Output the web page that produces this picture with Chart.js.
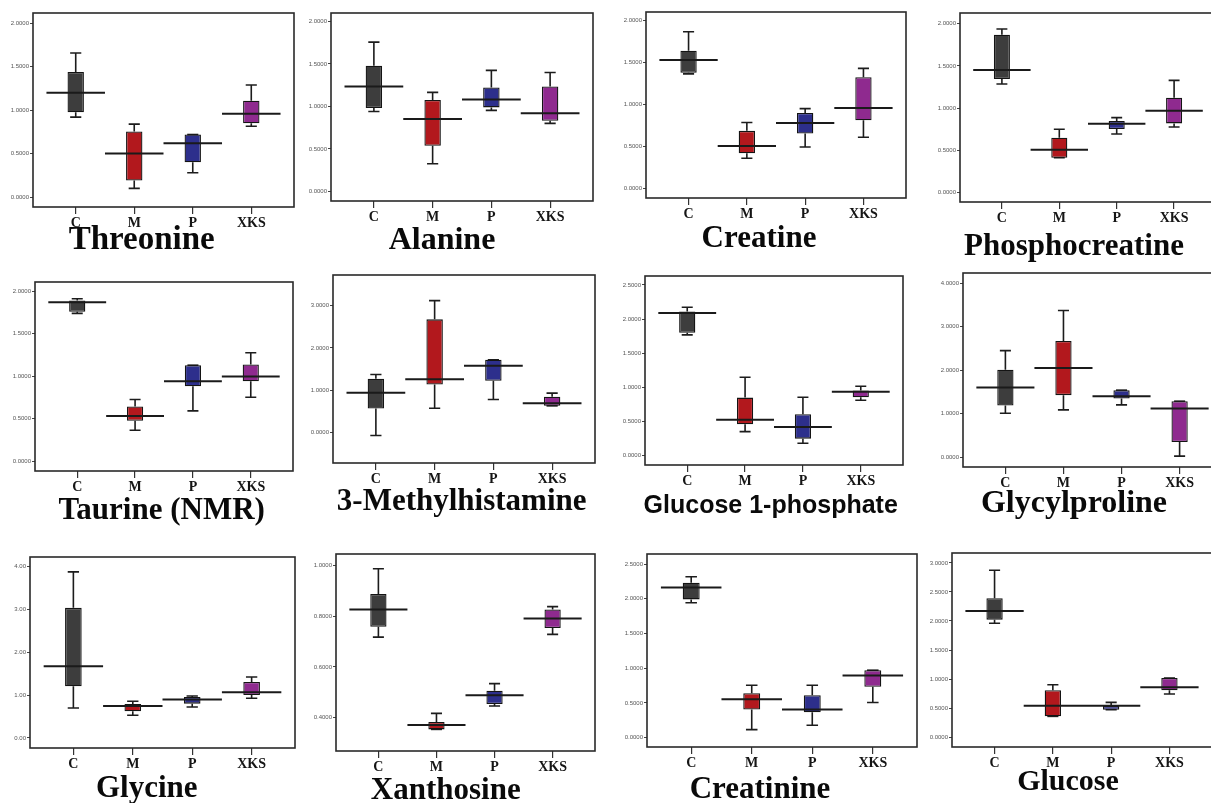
<!DOCTYPE html>
<html>
<head>
<meta charset="utf-8">
<script src="https://cdn.jsdelivr.net/npm/chart.js@4.4.0/dist/chart.umd.min.js"></script>
<style>
html, body { margin: 0; padding: 0; background: #fff; width: 1211px; height: 803px; overflow: hidden; position: relative; }
canvas { position: absolute; }
</style>
</head>
<body>
<script>
// groups on the x axis of every panel
const groups = ['C', 'M', 'P', 'XKS'];

const metabolites = [
    'Threonine', 'Alanine', 'Creatine', 'Phosphocreatine',
    'Taurine (NMR)', '3-Methylhistamine', 'Glucose 1-phosphate', 'Glycylproline',
    'Glycine', 'Xanthosine', 'Creatinine', 'Glucose'
];

// box plot values, one row per metabolite (C, M, P, XKS)
const mins = [
    [0.92, 0.10, 0.28, 0.815],
    [0.94, 0.325, 0.953, 0.80],
    [1.365, 0.361, 0.496, 0.611],
    [1.286, 0.414, 0.694, 0.777],
    [1.737, 0.365, 0.592, 0.753],
    [-0.07, 0.576, 0.781, 0.631],
    [1.768, 0.352, 0.181, 0.81],
    [1.013, 1.09, 1.205, 0.03],
    [0.702, 0.53, 0.725, 0.928],
    [0.717, 0.354, 0.446, 0.728],
    [1.942, 0.115, 0.178, 0.505],
    [1.96, 0.356, 0.471, 0.741]
];
const q1s = [
    [0.977, 0.19, 0.40, 0.85],
    [0.98, 0.537, 0.988, 0.831],
    [1.377, 0.421, 0.655, 0.813],
    [1.345, 0.414, 0.753, 0.82],
    [1.757, 0.475, 0.882, 0.941],
    [0.568, 1.137, 1.223, 0.631],
    [1.80, 0.459, 0.249, 0.854],
    [1.19, 1.428, 1.351, 0.353],
    [1.209, 0.624, 0.803, 1.006],
    [0.758, 0.354, 0.454, 0.753],
    [1.99, 0.404, 0.365, 0.731],
    [2.023, 0.356, 0.471, 0.805]
];
const q3s = [
    [1.44, 0.754, 0.72, 1.11],
    [1.478, 1.075, 1.224, 1.235],
    [1.639, 0.687, 0.90, 1.325],
    [1.87, 0.651, 0.848, 1.124],
    [1.89, 0.643, 1.129, 1.137],
    [1.271, 2.676, 1.72, 0.845],
    [2.109, 0.85, 0.605, 0.952],
    [2.01, 2.672, 1.543, 1.29],
    [3.041, 0.795, 0.959, 1.31],
    [0.887, 0.383, 0.506, 0.826],
    [2.23, 0.639, 0.611, 0.971],
    [2.391, 0.805, 0.534, 1.017]
];
const maxs = [
    [1.66, 0.84, 0.72, 1.29],
    [1.757, 1.165, 1.424, 1.40],
    [1.865, 0.786, 0.952, 1.43],
    [1.937, 0.75, 0.888, 1.329],
    [1.91, 0.725, 1.129, 1.275],
    [1.373, 3.118, 1.72, 0.931],
    [2.173, 1.147, 0.854, 1.016],
    [2.449, 3.37, 1.543, 1.29],
    [3.883, 0.858, 0.98, 1.427],
    [0.986, 0.417, 0.534, 0.837],
    [2.317, 0.755, 0.755, 0.971],
    [2.874, 0.902, 0.598, 1.017]
];
const means = [
    [1.20, 0.50, 0.62, 0.96],
    [1.235, 0.851, 1.082, 0.92],
    [1.528, 0.508, 0.782, 0.96],
    [1.452, 0.509, 0.817, 0.97],
    [1.867, 0.533, 0.941, 0.996],
    [0.939, 1.263, 1.579, 0.695],
    [2.09, 0.527, 0.42, 0.937],
    [1.605, 2.05, 1.405, 1.12],
    [1.676, 0.749, 0.897, 1.068],
    [0.826, 0.371, 0.488, 0.79],
    [2.163, 0.553, 0.404, 0.894],
    [2.172, 0.54, 0.54, 0.856]
];

// y axis of each panel: range, tick step, decimals of the tick labels
const yRanges = [
    [-0.115, 2.12], [-0.114, 2.10], [-0.111, 2.10], [-0.11, 2.126],
    [-0.114, 2.106], [-0.72, 3.725], [-0.137, 2.63], [-0.22, 4.23],
    [-0.234, 4.23], [0.269, 1.044], [-0.135, 2.644], [-0.172, 3.172]
];
const ySteps = [0.5, 0.5, 0.5, 0.5, 0.5, 1, 0.5, 1, 1, 0.2, 0.5, 0.5];
const yDecimals = [4, 4, 4, 4, 4, 4, 4, 4, 2, 4, 4, 4];

const boxColors = ['#3d3d3d', '#b2181d', '#2d2f8c', '#8f2a8f'];

// panel placement on the page: plot frame [left, top, right, bottom], title centre, title font
const panels = [
    { frame: [33, 13, 294, 207], title: [141.7, 240.7], size: 33 },
    { frame: [331, 13, 593, 201], title: [442, 241], size: 32 },
    { frame: [646, 12, 906, 198], title: [759, 239], size: 31 },
    { frame: [960, 13, 1216, 202], title: [1074, 247], size: 31 },
    { frame: [35, 282, 293, 471], title: [161.7, 511], size: 31 },
    { frame: [333, 275, 595, 463], title: [461.7, 502], size: 31 },
    { frame: [645, 276, 903, 465], title: [770.7, 506], size: 25, sans: true },
    { frame: [963, 273, 1222, 467], title: [1074, 504], size: 32 },
    { frame: [30, 557, 295, 748], title: [146.7, 789], size: 31 },
    { frame: [336, 554, 595, 751], title: [445.7, 791], size: 31 },
    { frame: [647, 554, 917, 747], title: [760, 790], size: 31 },
    { frame: [952, 553, 1212, 747], title: [1068, 782], size: 30 }
];

// whiskers, centre line and plot frame drawn through the chart scales
const boxExtras = {
    id: 'boxExtras',
    beforeDatasetsDraw(chart, args, opts) {
        const ctx = chart.ctx;
        const xs = chart.scales.x, ys = chart.scales.y;
        const bars = chart.getDatasetMeta(0).data;
        ctx.save();
        ctx.strokeStyle = '#1c1c1c';
        ctx.lineWidth = 1.6;
        opts.lo.forEach((lo, i) => {
            const x = xs.getPixelForValue(i);
            const cap = bars[i].width * 0.34;
            [[lo, opts.q1[i]], [opts.hi[i], opts.q3[i]]].forEach(([end, edge]) => {
                const ye = ys.getPixelForValue(end);
                const yb = ys.getPixelForValue(edge);
                ctx.beginPath();
                ctx.moveTo(x, yb);
                ctx.lineTo(x, ye);
                ctx.moveTo(x - cap, ye);
                ctx.lineTo(x + cap, ye);
                ctx.stroke();
            });
        });
        ctx.restore();
    },
    afterDatasetsDraw(chart, args, opts) {
        const ctx = chart.ctx;
        const xs = chart.scales.x, ys = chart.scales.y;
        const area = chart.chartArea;
        ctx.save();
        ctx.strokeStyle = '#1a1a1a';
        ctx.lineWidth = 2;
        opts.mid.forEach((m, i) => {
            const xl = xs.getPixelForValue(i - 0.5);
            const xr = xs.getPixelForValue(i + 0.5);
            const y = ys.getPixelForValue(m);
            ctx.beginPath();
            ctx.moveTo(xl, y);
            ctx.lineTo(xr, y);
            ctx.stroke();
        });
        ctx.strokeStyle = '#2a2a2a';
        ctx.lineWidth = 1.6;
        ctx.strokeRect(area.left, area.top, area.right - area.left, area.bottom - area.top);
        ctx.restore();
    }
};

function buildPanel(k) {
    const p = panels[k];
    const [L, T, R, B] = p.frame;
    const [tx, ty] = p.title;
    const fs = p.size;

    // left axis wide enough for its labels; an empty right axis moves the title centre
    const yw = Math.max(30, L + R - 2 * tx);
    const rw = 2 * tx - L - R + yw;
    const left = Math.floor(L - yw - 6);
    const padL = L - yw - left;
    const top = Math.floor(T - 8);
    const padT = T - top;
    const xh = 24;
    const lh = 2 * (ty - B - xh) / fs;
    const W = Math.ceil(R - left + rw + 3);
    const padR = W - (R - left + rw);
    const H = Math.ceil(padT + (B - T) + xh + lh * fs + 0.55 * fs - lh * fs / 2 + 3);
    const padB = H - (padT + (B - T) + xh + lh * fs);

    const canvas = document.createElement('canvas');
    canvas.width = W;
    canvas.height = H;
    canvas.style.left = left + 'px';
    canvas.style.top = top + 'px';
    canvas.style.width = W + 'px';
    canvas.style.height = H + 'px';
    document.body.appendChild(canvas);

    const [yMin, yMax] = yRanges[k];
    const step = ySteps[k];
    const yTicks = [];
    for (let n = Math.ceil(yMin / step - 1e-9); n * step <= yMax + 1e-9; n++) {
        yTicks.push({ value: +(n * step).toFixed(6) });
    }

    new Chart(canvas, {
        type: 'bar',
        data: {
            datasets: [{
                data: groups.map((g, i) => ({ x: i, y: [q1s[k][i], q3s[k][i]] })),
                backgroundColor: boxColors,
                borderColor: '#141414',
                borderWidth: 1.3,
                borderSkipped: false,
                barPercentage: 0.35,
                categoryPercentage: 0.8
            }]
        },
        options: {
            responsive: false,
            animation: false,
            devicePixelRatio: 1,
            layout: { padding: { left: padL, right: padR, top: padT, bottom: padB } },
            scales: {
                x: {
                    type: 'linear',
                    min: -0.73,
                    max: 3.73,
                    offset: false,
                    border: { display: false },
                    grid: { offset: false, drawOnChartArea: false, drawTicks: true, tickLength: 7, color: '#333', lineWidth: 1.2 },
                    afterBuildTicks: s => { s.ticks = groups.map((g, i) => ({ value: i })); },
                    afterFit: s => { s.height = xh; },
                    ticks: {
                        autoSkip: false,
                        maxRotation: 0,
                        padding: 1,
                        color: '#151515',
                        font: { family: 'Liberation Serif', weight: 'bold', size: 14 },
                        callback: v => groups[v]
                    }
                },
                y: {
                    min: yMin,
                    max: yMax,
                    border: { display: false },
                    grid: { drawOnChartArea: false, drawTicks: true, tickLength: 3, color: '#444', lineWidth: 1 },
                    afterBuildTicks: s => { s.ticks = yTicks; },
                    afterFit: s => { s.width = yw; },
                    ticks: {
                        padding: 1,
                        color: '#555',
                        font: { family: 'Liberation Sans', size: 6 },
                        callback: v => Number(v).toFixed(yDecimals[k])
                    }
                },
                spacer: {
                    type: 'linear',
                    position: 'right',
                    border: { display: false },
                    grid: { display: false },
                    ticks: { display: false },
                    afterFit: s => { s.width = rw; }
                }
            },
            plugins: {
                legend: { display: false },
                tooltip: { enabled: false },
                title: {
                    display: true,
                    position: 'bottom',
                    text: metabolites[k],
                    color: '#0a0a0a',
                    padding: 0,
                    font: {
                        family: p.sans ? 'Liberation Sans' : 'Liberation Serif',
                        weight: 'bold',
                        size: fs,
                        lineHeight: lh
                    }
                },
                boxExtras: { lo: mins[k], q1: q1s[k], q3: q3s[k], hi: maxs[k], mid: means[k] }
            }
        },
        plugins: [boxExtras]
    });
}

metabolites.forEach((name, k) => buildPanel(k));
</script>
</body>
</html>
